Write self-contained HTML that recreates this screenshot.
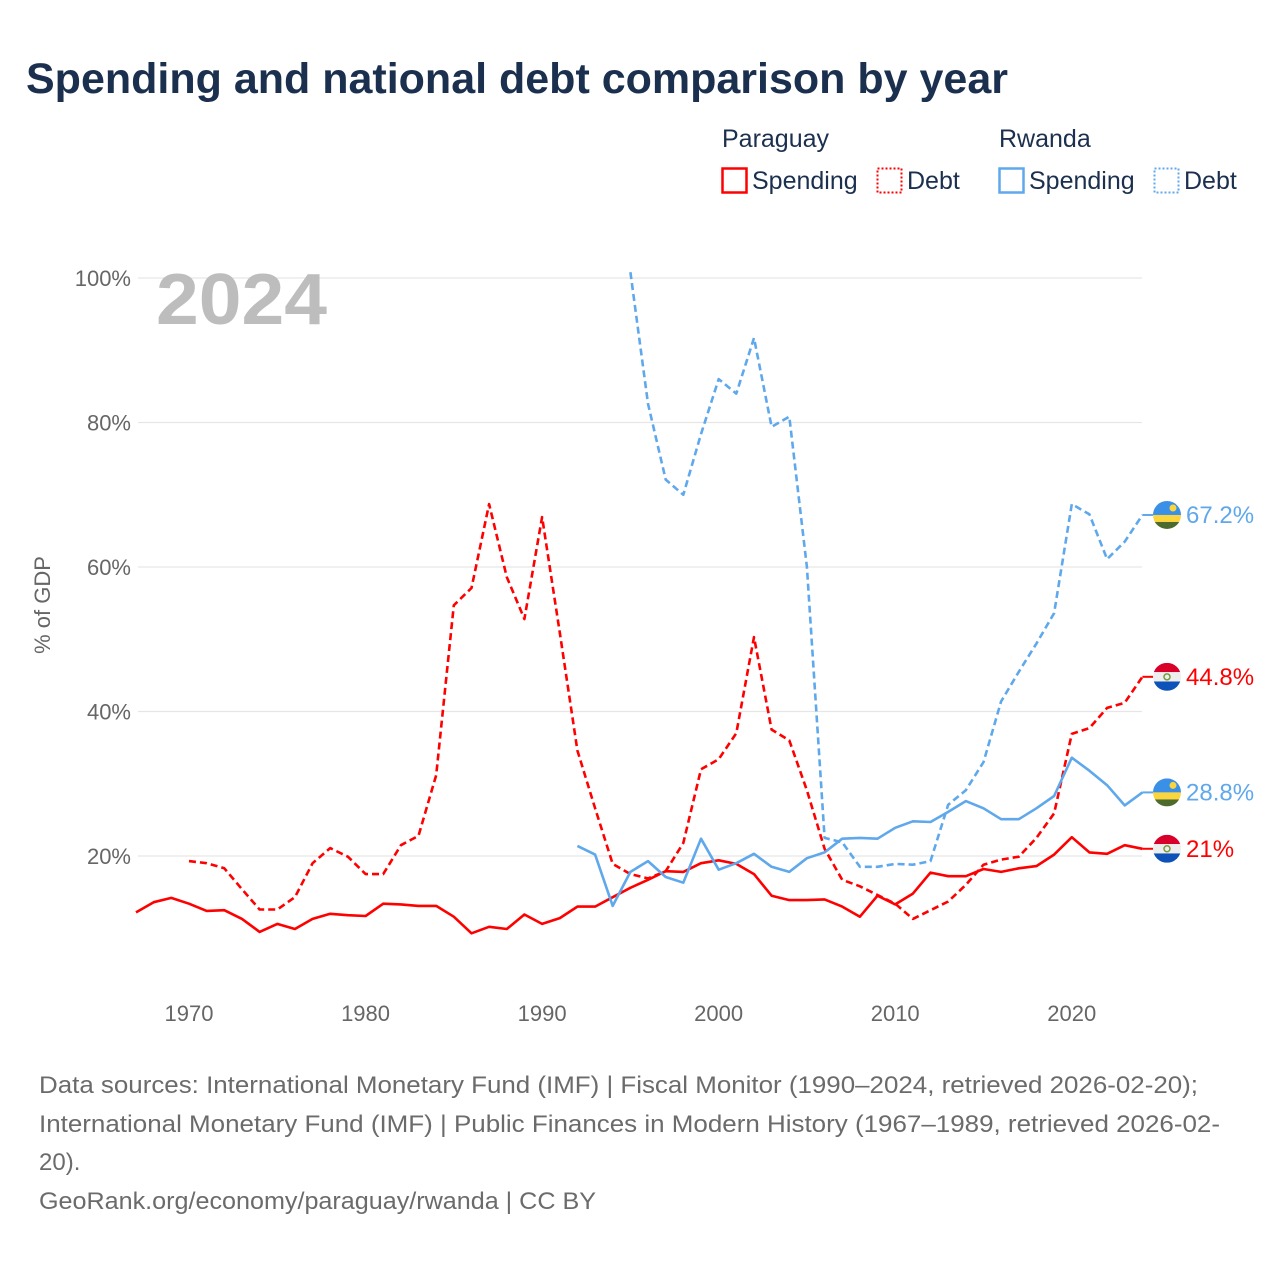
<!DOCTYPE html>
<html><head><meta charset="utf-8"><style>
body{margin:0;background:#fff;}
svg text{font-family:"Liberation Sans",sans-serif;}
</style></head><body>
<svg id="chart" width="1280" height="1280" viewBox="0 0 1280 1280" xmlns="http://www.w3.org/2000/svg">
<rect width="1280" height="1280" fill="#fff"/>
<text x="26" y="93" font-size="43" font-weight="bold" fill="#1b2f4e">Spending and national debt comparison by year</text>
<g font-size="25" fill="#1b2f4e">
<text x="722" y="147" fill="#1b2f4e">Paraguay</text>
<text x="999" y="147" fill="#1b2f4e">Rwanda</text>
<g><rect x="722.5" y="168.5" width="24" height="24" fill="none" stroke="#f00" stroke-width="2.5"/><text x="752" y="189" fill="#1b2f4e">Spending</text></g>
<g><rect x="877.5" y="168.5" width="24" height="24" fill="none" stroke="#f00" stroke-width="2" stroke-dasharray="2 2"/><text x="907" y="189" fill="#1b2f4e">Debt</text></g>
<g><rect x="999.5" y="168.5" width="24" height="24" fill="none" stroke="#5fa8ec" stroke-width="2.5"/><text x="1029" y="189" fill="#1b2f4e">Spending</text></g>
<g><rect x="1154.5" y="168.5" width="24" height="24" fill="none" stroke="#5fa8ec" stroke-width="2" stroke-dasharray="2 2"/><text x="1184" y="189" fill="#1b2f4e">Debt</text></g>
</g>
<g id="grid"></g>
<g id="yticks" font-size="22" fill="#666"></g>
<g id="xticks" font-size="22" fill="#666"></g>
<text transform="translate(50,605) rotate(-90)" text-anchor="middle" font-size="22" fill="#666">% of GDP</text>
<text x="156" y="324" font-size="72" font-weight="bold" fill="#bdbdbd" textLength="171" lengthAdjust="spacingAndGlyphs">2024</text>
<g id="series"></g>
<g id="endlabels"></g>
<g font-size="24" fill="#6b6b6b">
<text x="39" y="1093" textLength="1159" lengthAdjust="spacingAndGlyphs">Data sources: International Monetary Fund (IMF) | Fiscal Monitor (1990–2024, retrieved 2026-02-20);</text>
<text x="39" y="1132" textLength="1181" lengthAdjust="spacingAndGlyphs">International Monetary Fund (IMF) | Public Finances in Modern History (1967–1989, retrieved 2026-02-</text>
<text x="39" y="1170">20).</text>
<text x="39" y="1209" textLength="557" lengthAdjust="spacingAndGlyphs">GeoRank.org/economy/paraguay/rwanda | CC BY</text>
</g>
</svg>
<script>
const yTicks = [20, 40, 60, 80, 100];
const xTicks = [1970, 1980, 1990, 2000, 2010, 2020];
const pySpendStart = 1967;
const pySpend = [12.2,13.6,14.2,13.4,12.4,12.5,11.3,9.5,10.6,9.9,11.3,12.0,11.8,11.7,13.4,13.3,13.1,13.1,11.6,9.3,10.2,9.9,11.9,10.6,11.4,13.0,13.0,14.3,15.6,16.7,17.9,17.8,19.0,19.4,18.9,17.5,14.5,13.9,13.9,14.0,13.0,11.6,14.5,13.3,14.8,17.7,17.2,17.2,18.2,17.8,18.3,18.6,20.2,22.6,20.5,20.3,21.5,21.0];
const pyDebtStart = 1970;
const pyDebt = [19.3,19.0,18.3,15.4,12.6,12.6,14.3,19.0,21.1,19.9,17.5,17.5,21.5,22.8,31.2,54.7,57.1,68.7,58.6,52.8,66.9,50.9,34.6,26.6,18.9,17.5,16.9,17.9,21.8,32.0,33.4,37.0,50.3,37.5,36.0,29.1,21.0,16.7,15.8,14.6,13.4,11.3,12.5,13.7,16.0,18.8,19.5,19.9,22.5,25.9,36.9,37.7,40.5,41.2,44.8];
const rwSpendStart = 1992;
const rwSpend = [21.4,20.2,13.1,17.8,19.3,17.1,16.3,22.4,18.1,19.0,20.3,18.5,17.8,19.7,20.5,22.4,22.5,22.4,23.9,24.8,24.7,26.1,27.6,26.6,25.1,25.1,26.6,28.3,33.6,31.8,29.8,27.0,28.8];
const rwDebtStart = 1995;
const rwDebt = [100.8,82.6,72.1,70.0,78.4,86.0,84.0,91.7,79.4,80.8,60.0,22.5,21.9,18.5,18.5,18.9,18.8,19.3,27.1,29.1,33.0,41.4,45.5,49.4,53.6,68.7,67.3,61.1,63.5,67.2];
const endLabels = ["67.2%","44.8%","28.8%","21%"];

const NS="http://www.w3.org/2000/svg";
const X = yr => 189 + (yr-1970)*17.655;
const Y = v => 1000.5 - v*7.225;
function mk(tag, attrs, parent){const e=document.createElementNS(NS,tag);for(const k in attrs)e.setAttribute(k,attrs[k]);parent.appendChild(e);return e;}
const grid=document.getElementById('grid'), yt=document.getElementById('yticks'), xt=document.getElementById('xticks');
yTicks.forEach(v=>{
  const l=mk('line',{x1:138,x2:1142,y1:Y(v),y2:Y(v),stroke:'#e6e6e6','stroke-width':1.2},grid);
  
  
  const t=mk('text',{x:131,y:Y(v)+8,'text-anchor':'end'},yt);
  t.textContent=v+'%';
  
  
});
xTicks.forEach(yr=>{
  const t=mk('text',{x:X(yr),y:1021,'text-anchor':'middle'},xt);
  t.textContent=yr;
  
  
});
const series=document.getElementById('series');
function draw(vals,start,color,dash,name){
  const d=vals.map((v,i)=>(i?'L':'M')+X(start+i).toFixed(1)+','+Y(v).toFixed(1)).join('');
  const p=mk('path',{d:d,fill:'none',stroke:color,'stroke-width':2.6,'stroke-linejoin':'round'},series);
  if(dash)p.setAttribute('stroke-dasharray',dash);
  
  
}
const RED='#f00', BLUE='#5fa8ec';
draw(pyDebt,pyDebtStart,RED,'7 4','paraguay-debt-line');
draw(rwDebt,rwDebtStart,BLUE,'7 4','rwanda-debt-line');
draw(pySpend,pySpendStart,RED,null,'paraguay-spending-line');
draw(rwSpend,rwSpendStart,BLUE,null,'rwanda-spending-line');

const el=document.getElementById('endlabels');
const ends=[[rwDebt,'rw',BLUE,endLabels[0]],[pyDebt,'py',RED,endLabels[1]],[rwSpend,'rw',BLUE,endLabels[2]],[pySpend,'py',RED,endLabels[3]]];
ends.forEach((e,i)=>{
  const y=Y(e[0][e[0].length-1]);
  const g=mk('g',{},el);
  
  
  mk('line',{x1:X(2024),x2:1153,y1:y,y2:y,stroke:e[2],'stroke-width':2},g);
  const cx=1167,r=14;
  const cp='clip'+i;
  const c=mk('clipPath',{id:cp},g); mk('circle',{cx:cx,cy:y,r:r},c);
  const fg=mk('g',{'clip-path':'url(#'+cp+')'},g);
  if(e[1]==='rw'){
    mk('rect',{x:cx-r,y:y-r,width:2*r,height:2*r*0.5,fill:'#3a8fe6'},fg);
    mk('rect',{x:cx-r,y:y,width:2*r,height:2*r*0.25,fill:'#fbd53e'},fg);
    mk('rect',{x:cx-r,y:y+r*0.5,width:2*r,height:r*0.5,fill:'#4d6b2c'},fg);
    mk('circle',{cx:cx+6,cy:y-7,r:3.5,fill:'#fbd53e'},fg);
  } else {
    mk('rect',{x:cx-r,y:y-r,width:2*r,height:2*r/3,fill:'#d8002a'},fg);
    mk('rect',{x:cx-r,y:y-r/3,width:2*r,height:2*r/3,fill:'#eee'},fg);
    mk('rect',{x:cx-r,y:y+r/3,width:2*r,height:2*r/3,fill:'#0c52b8'},fg);
    mk('circle',{cx:cx,cy:y,r:3,fill:'none',stroke:'#7a9a3a','stroke-width':1.5},fg);
  }
  const t=mk('text',{x:1186,y:y+8,'font-size':24,fill:e[2]},g);
  t.textContent=e[3];
});
</script>
</body></html>
